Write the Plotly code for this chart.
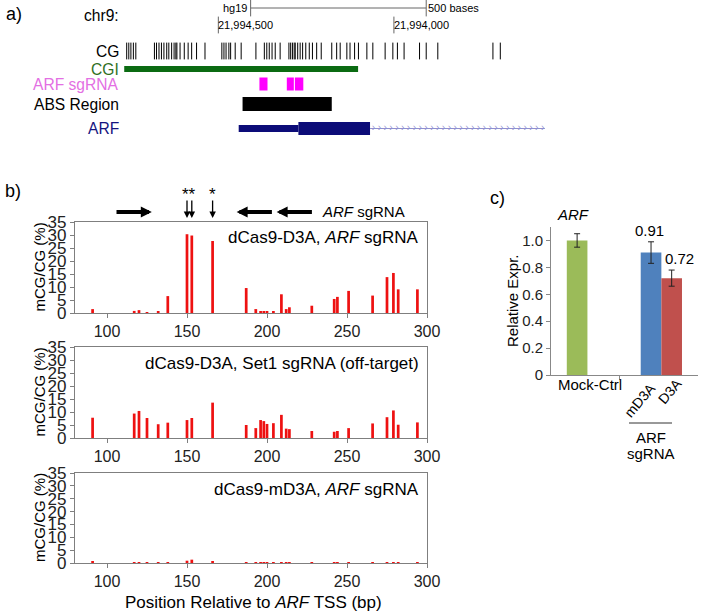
import numpy as np
import plotly.graph_objects as go

W, H = 701, 614
FONT = "Liberation Sans, Arial, Helvetica, sans-serif"

# ---------------- panel a: genome browser view (hg19, chr9) ----------------
A_VIEW = [21994837, 21993527]          # reversed: minus strand, left -> right
COORD_TICKS = [21994500, 21994000]
SCALE_START = 21994408
SCALE_BP = 500

CG_SITES = [21994761, 21994755, 21994749, 21994742, 21994735, 21994682, 21994676,
            21994669, 21994662, 21994655, 21994647, 21994641, 21994633, 21994626,
            21994621, 21994618, 21994609, 21994597, 21994586, 21994576, 21994562,
            21994538, 21994490, 21994484, 21994478, 21994470, 21994465, 21994452,
            21994435, 21994393, 21994369, 21994362, 21994355, 21994347, 21994338,
            21994324, 21994299, 21994294, 21994289, 21994284, 21994281, 21994274,
            21994267, 21994260, 21994251, 21994241, 21994232, 21994220, 21994207,
            21994177, 21994163, 21994153, 21994134, 21994125, 21994112, 21994101,
            21994077, 21994060, 21994025, 21994003, 21993990, 21993971, 21993927,
            21993908, 21993875, 21993718, 21993697]
CGI_START, CGI_END = [21994768], [21994102]
SGRNA_START = [21994383, 21994305, 21994282]
SGRNA_END = [21994360, 21994285, 21994258]
ABS_START, ABS_END = [21994431], [21994177]
ARF_UTR_START, ARF_UTR_END = [21994442], [21994272]
ARF_CDS_START, ARF_CDS_END = [21994272], [21994068]
ARF_INTRON = [21994068, 21993570]

# vertical placement of the browser rows (pixels from the top of the figure)
ROW = {"scale": 8, "coords": 25, "chr": 15, "CG": 51, "CGI": 69,
       "ARF sgRNA": 84, "ABS Region": 104, "ARF": 128.5}

# ---------------- panel b: bisulfite methylation per CpG ----------------
POSITIONS = [91, 117, 120, 125, 132, 138, 150, 153, 166, 187, 193, 196, 198, 200,
             204, 209, 212, 214, 228, 242, 244, 251, 266, 275, 279, 282, 294]
D3A_ARF = [1.5, 0.8, 1.1, 0.3, 0.7, 6.5, 30.3, 29.8, 27.7, 9.6, 1.5, 0.4, 0.6, 0.6,
           0.6, 7.2, 1.5, 2.2, 2.8, 5.4, 6.2, 8.5, 6.7, 13.8, 15.4, 9.1, 9.1]
D3A_SET1 = [7.8, 9.4, 10.4, 7.7, 5.3, 5.9, 6.9, 7.7, 13.6, 5.0, 3.8, 6.9, 6.5, 5.4,
            5.7, 8.9, 3.6, 3.4, 2.7, 2.4, 2.7, 3.8, 5.6, 8.0, 10.6, 5.1, 6.0]
MD3A_ARF = [0.4, 0.2, 0.2, 0.1, 0.1, 0.1, 0.9, 1.3, 0.7, 0.1, 0.1, 0.2, 0.2, 0.1,
            0.1, 0.2, 0.1, 0.1, 0.1, 0.1, 0.1, 0.1, 0.1, 0.1, 0.2, 0.1, 0.1]
PANEL_TITLES = ["dCas9-D3A, <i>ARF</i> sgRNA",
                "dCas9-D3A, Set1 sgRNA (off-target)",
                "dCas9-mD3A, <i>ARF</i> sgRNA"]
SGRNA_ARROW_TAIL = [105, 204, 229]
SGRNA_ARROW_HEAD = [128, 181, 206]
TARGET_SITES = [150, 153, 166]
STAR_POS = [151.5, 166]
STAR_TEXT = ["**", "*"]

# ---------------- panel c: relative expression ----------------
EXPR_GROUP = ["Mock-Ctrl", "ARF sgRNA", "ARF sgRNA"]
EXPR_LABELS = ["Mock-Ctrl", "mD3A", "D3A"]
EXPR_VALUES = [1.00, 0.91, 0.72]
EXPR_ERRORS = [0.05, 0.08, 0.06]
EXPR_COLORS = ["#9BBB59", "#4F81BD", "#C0504D"]


def fx(p):
    return p / W


def fy(p):
    return 1 - p / H


fig = go.Figure()

# ---- panel a traces
def track_bar(starts, ends, row, thickness, color):
    lo = [min(s, e) for s, e in zip(starts, ends)]
    ln = [abs(s - e) for s, e in zip(starts, ends)]
    return go.Bar(x=ln, base=lo, y=[row] * len(lo), orientation="h", width=thickness,
                  marker=dict(color=color, line=dict(width=0)), xaxis="x", yaxis="y")


fig.add_trace(go.Scatter(x=[SCALE_START, SCALE_START - SCALE_BP], y=[ROW["scale"]] * 2,
                         mode="lines+markers", line=dict(color="#666", width=1),
                         marker=dict(symbol="line-ns", size=12, line=dict(width=1, color="#666")),
                         xaxis="x", yaxis="y"))
fig.add_trace(go.Scatter(x=COORD_TICKS, y=[ROW["coords"]] * len(COORD_TICKS), mode="markers",
                         marker=dict(symbol="line-ns", size=12, line=dict(width=1, color="#666")),
                         xaxis="x", yaxis="y"))
fig.add_trace(go.Scatter(x=CG_SITES, y=[ROW["CG"]] * len(CG_SITES), mode="markers",
                         marker=dict(symbol="line-ns", size=12, line=dict(width=1, color="black")),
                         xaxis="x", yaxis="y"))
fig.add_trace(track_bar(CGI_START, CGI_END, ROW["CGI"], 6, "#0B6B12"))
fig.add_trace(track_bar(SGRNA_START, SGRNA_END, ROW["ARF sgRNA"], 13, "#FF00FF"))
fig.add_trace(track_bar(ABS_START, ABS_END, ROW["ABS Region"], 14, "#000000"))
fig.add_trace(go.Scatter(x=ARF_INTRON, y=[ROW["ARF"]] * 2, mode="lines",
                         line=dict(color="#8F8FD0", width=1.2), xaxis="x", yaxis="y"))
chev = np.arange(ARF_INTRON[0] - 10, ARF_INTRON[1] + 5, -16.6)
fig.add_trace(go.Scatter(x=chev, y=[ROW["ARF"]] * len(chev), mode="text", text=["›"] * len(chev),
                         textfont=dict(size=10, color="#8F8FD0", family=FONT),
                         xaxis="x", yaxis="y"))
fig.add_trace(track_bar(ARF_UTR_START, ARF_UTR_END, ROW["ARF"], 7, "#0C0C78"))
fig.add_trace(track_bar(ARF_CDS_START, ARF_CDS_END, ROW["ARF"], 13, "#0C0C78"))

# ---- panel b traces
for i, vals in enumerate([D3A_ARF, D3A_SET1, MD3A_ARF]):
    n = i + 2
    fig.add_trace(go.Bar(x=POSITIONS, y=vals, width=1.7,
                         marker=dict(color="#EE1111", line=dict(width=0)),
                         xaxis=f"x{n}", yaxis=f"y{n}"))

# ---- panel c trace
bw = 0.245
fig.add_trace(go.Bar(x=EXPR_GROUP, y=EXPR_VALUES, width=bw, offset=[-bw / 2, -bw, 0],
                     marker=dict(color=EXPR_COLORS, line=dict(width=0)),
                     error_y=dict(type="data", array=EXPR_ERRORS, color="#222",
                                  thickness=1, width=3),
                     xaxis="x5", yaxis="y5"))

# ---- axes
hidden = dict(visible=False, showgrid=False, zeroline=False, automargin=False)
layout_axes = dict(
    xaxis=dict(domain=[fx(100), fx(560)], range=A_VIEW, anchor="y", **hidden),
    yaxis=dict(domain=[fy(140), 1], range=[140, 0], anchor="x", **hidden),
)
b_boxes = [(222, 313), (347, 438), (473, 563)]
for i, (top, bot) in enumerate(b_boxes):
    n = i + 2
    common = dict(showline=True, linecolor="#7F7F7F", linewidth=1.3, mirror=True,
                  ticks="outside", ticklen=4, tickcolor="#7F7F7F", showgrid=False,
                  zeroline=False, automargin=False)
    layout_axes[f"xaxis{n}"] = dict(domain=[fx(75), fx(427)], range=[80, 300],
                                    tickvals=[100, 150, 200, 250, 300], anchor=f"y{n}",
                                    tickfont=dict(size=16, color="#222", family=FONT), **common)
    layout_axes[f"yaxis{n}"] = dict(domain=[fy(bot), fy(top)], range=[0, 35], dtick=5,
                                    anchor=f"x{n}",
                                    tickfont=dict(size=17, color="#222", family=FONT), **common)

layout_axes["xaxis5"] = dict(domain=[fx(551), fx(698)], type="category",
                             categoryorder="array", categoryarray=["Mock-Ctrl", "ARF sgRNA"],
                             range=[-0.31, 1.435], showticklabels=False, showline=True,
                             linecolor="#888", linewidth=1, ticks="outside", ticklen=4,
                             tickcolor="#888", tickson="boundaries", showgrid=False,
                             zeroline=False, anchor="y5", automargin=False)
layout_axes["yaxis5"] = dict(domain=[fy(375), fy(227)], range=[0, 1.1],
                             tickvals=[0, 0.2, 0.4, 0.6, 0.8, 1.0],
                             ticktext=["0", "0.2", "0.4", "0.6", "0.8", "1.0"],
                             showline=True, linecolor="#888", linewidth=1, ticks="outside",
                             ticklen=4, tickcolor="#888", showgrid=False, zeroline=False,
                             tickfont=dict(size=15, color="#222", family=FONT), anchor="x5",
                             automargin=False)

# ---- annotations
ann = []


def txt(text, x, y, size, xanchor="center", yanchor="middle", color="black", xref="paper",
        yref="paper", angle=0, **kw):
    ann.append(dict(text=text, x=x, y=y, xref=xref, yref=yref, xanchor=xanchor,
                    yanchor=yanchor, showarrow=False, textangle=angle,
                    font=dict(size=size, color=color, family=FONT), **kw))


# panel letters
txt("a)", fx(4), fy(14), 18, xanchor="left")
txt("b)", fx(3), fy(191), 18, xanchor="left")
txt("c)", fx(488), fy(198), 18, xanchor="left")

# panel a labels
txt("hg19", SCALE_START, ROW["scale"], 11, xanchor="right", xref="x", yref="y", xshift=-2)
txt(f"{SCALE_BP} bases", SCALE_START - SCALE_BP, ROW["scale"], 11, xanchor="left",
    xref="x", yref="y")
for c in COORD_TICKS:
    txt(f"{c:,}", c, ROW["coords"], 11, xanchor="left", xref="x", yref="y", xshift=-2)
track_labels = [("chr9:", "chr", "black"), ("CG", "CG", "black"), ("CGI", "CGI", "#2F6F1F"),
                ("ARF sgRNA", "ARF sgRNA", "#E36FE3"), ("ABS Region", "ABS Region", "black"),
                ("ARF", "ARF", "#14147F")]
for label, key, col in track_labels:
    txt(label, fx(121), ROW[key], 15.6, xanchor="right", color=col, yref="y")

# panel b labels
for i, (top, bot) in enumerate(b_boxes):
    txt(PANEL_TITLES[i], fx(421), fy(top + 16), 17, xanchor="right")
    txt("mCG/CG (%)", fx(39), fy((top + bot) / 2), 15, angle=-90)
txt("Position Relative to <i>ARF</i> TSS (bp)", fx(253), fy(602), 17)

for tail, head in zip(SGRNA_ARROW_TAIL, SGRNA_ARROW_HEAD):
    ann.append(dict(text="", x=head, y=fy(212), ax=tail, ay=0, xref="x2", yref="paper",
                    axref="x2", ayref="pixel", showarrow=True, arrowhead=2, arrowsize=0.55,
                    arrowwidth=4, arrowcolor="black", standoff=0, startstandoff=0))
txt("<i>ARF</i> sgRNA", 233, fy(212), 15, xanchor="left", xref="x2")
for site in TARGET_SITES:
    ann.append(dict(text="", x=site, y=fy(218), ax=0, ay=-19, xref="x2", yref="paper",
                    axref="pixel", ayref="pixel", showarrow=True, arrowhead=2, arrowsize=1,
                    arrowwidth=1.3, arrowcolor="black", standoff=0, startstandoff=0))
for pos, s in zip(STAR_POS, STAR_TEXT):
    txt(s, pos, fy(206), 17, yanchor="bottom", xref="x2")

# panel c labels
txt("<i>ARF</i>", fx(573), fy(215), 15)
txt("Relative Expr.", fx(512), fy(301), 15, angle=-90)
txt(EXPR_LABELS[0], fx(590), fy(385), 15)
txt(EXPR_LABELS[1], fx(640), fy(400), 14, angle=-50)
txt(EXPR_LABELS[2], fx(670), fy(391), 14, angle=-50)
txt("ARF", fx(651), fy(437), 15)
txt("sgRNA", fx(651), fy(453), 15)
txt(f"{EXPR_VALUES[1]:.2f}", "ARF sgRNA", EXPR_VALUES[1] + EXPR_ERRORS[1], 15,
    yanchor="bottom", xref="x5", yref="y5", xshift=-12, yshift=1)
txt(f"{EXPR_VALUES[2]:.2f}", "ARF sgRNA", EXPR_VALUES[2] + EXPR_ERRORS[2], 15,
    yanchor="bottom", xref="x5", yref="y5", xshift=18, yshift=1)

shapes = [dict(type="line", xref="paper", yref="paper", x0=fx(629), x1=fx(672),
               y0=fy(423), y1=fy(423), line=dict(color="#333", width=1))]

fig.update_layout(
    width=W, height=H, autosize=False,
    margin=dict(l=0, r=0, t=0, b=0, pad=0, autoexpand=False),
    paper_bgcolor="white", plot_bgcolor="white",
    barmode="overlay", showlegend=False, hovermode=False,
    font=dict(family=FONT, color="black"),
    annotations=ann, shapes=shapes,
    **layout_axes,
)

# the page body has a default 8px margin; drop it so the figure fills the window
fig.write_html("out.html", config={"displayModeBar": False},
               post_script="document.body.style.margin='0px';")
